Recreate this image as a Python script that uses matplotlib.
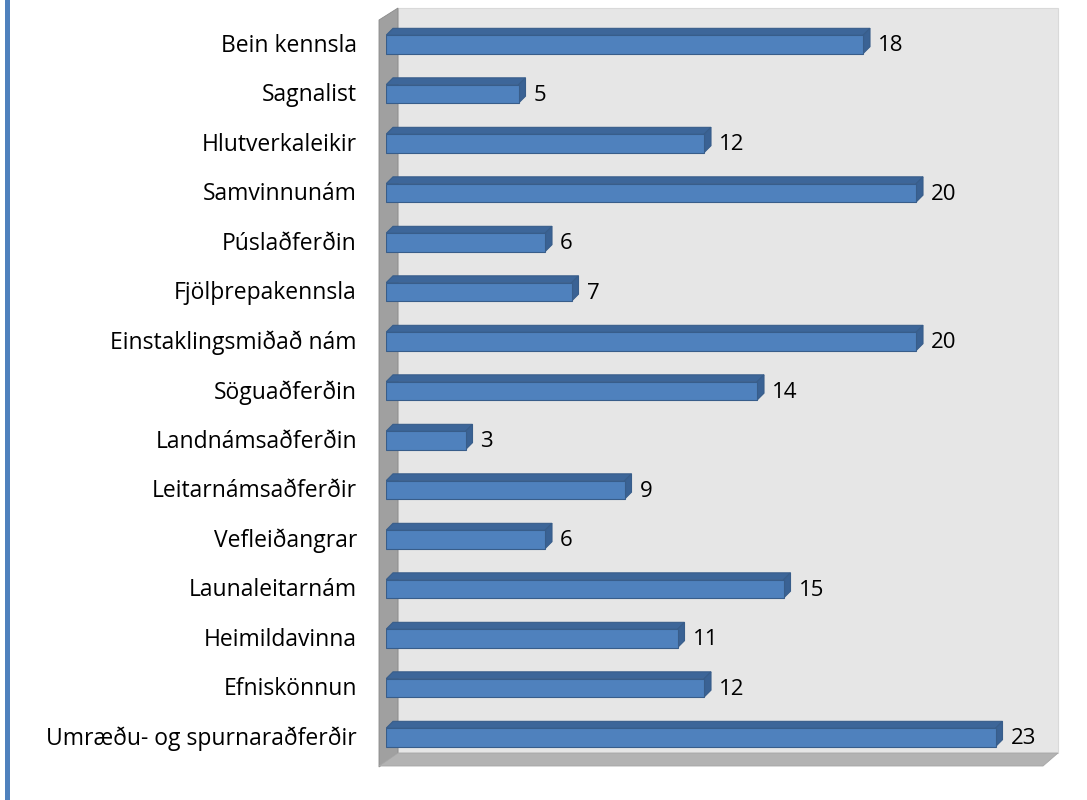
import numpy as np
import matplotlib.pyplot as plt
from matplotlib.patches import Polygon, Rectangle

categories = ["Bein kennsla", "Sagnalist", "Hlutverkaleikir", "Samvinnunám",
              "Púslaðferðin", "Fjölþrepakennsla", "Einstaklingsmiðað nám",
              "Söguaðferðin", "Landnámsaðferðin", "Leitarnámsaðferðir",
              "Vefleiðangrar", "Launaleitarnám", "Heimildavinna",
              "Efniskönnun", "Umræðu- og spurnaraðferðir"]
values = [18, 5, 12, 20, 6, 7, 20, 14, 3, 9, 6, 15, 11, 12, 23]

W, H = 1087, 800
FONT = "Open Sans"

fig = plt.figure(figsize=(W / 100, H / 100), dpi=100)

# background frame in pixel space (walls, floor, left accent line)
bg = fig.add_axes([0, 0, 1, 1])
bg.set_xlim(0, W)
bg.set_ylim(H, 0)
bg.set_axis_off()
bg.add_patch(Rectangle((5, 0), 5, H, color="#4f81bd", lw=0))
bg.add_patch(Polygon([(398, 8), (1058, 8), (1058, 753), (398, 753)],
                     closed=True, fc="#e6e6e6", ec="#d9d9d9", lw=0.8))
bg.add_patch(Polygon([(379, 20), (398, 8), (398, 753), (379, 767)],
                     closed=True, fc="#a0a0a0", ec="#8a8a8a", lw=0.6))
bg.add_patch(Polygon([(398, 753), (1058, 753), (1043, 766), (379, 766)],
                     closed=True, fc="#b3b3b3", ec="#a6a6a6", lw=0.6))

# data axes on the front plane
px_unit = 26.5
x_left, xmax = 386, 25
y_top, step = 44.5 - 0.5 * 49.5, 49.5
ax_w = xmax * px_unit
ax_h = step * len(categories)
ax = fig.add_axes([x_left / W, 1 - (y_top + ax_h) / H, ax_w / W, ax_h / H])
ax.set_xlim(0, xmax)
ax.set_ylim(len(categories) - 0.5, -0.5)
ax.patch.set_alpha(0)
ax.set_axis_off()

y = np.arange(len(categories))
bh = 0.37
dx = 7 / px_unit          # depth offset, data units
dy = 7 / step

face = "#4f81bd"
dark = "#3d6699"
edge = "#385d8a"
for yi, v in zip(y, values):
    top = yi - bh / 2
    bot = yi + bh / 2
    ax.add_patch(Polygon([(0, top), (dx, top - dy), (v + dx, top - dy), (v, top)],
                         closed=True, fc=dark, ec=edge, lw=0.8, zorder=2))
    ax.add_patch(Polygon([(v, top), (v + dx, top - dy), (v + dx, bot - dy), (v, bot)],
                         closed=True, fc="#3a6294", ec=edge, lw=0.8, zorder=2))
ax.barh(y, values, height=bh, color=face, edgecolor=edge, lw=0.8, zorder=3)

for yi, v in zip(y, values):
    ax.text(v + dx + 8 / px_unit, yi + 0.03, str(v), va="center", ha="left",
            fontsize=16, family=FONT, color="black")
    ax.text(-29 / px_unit, yi + 0.03, categories[yi], va="center", ha="right",
            fontsize=16.5, family=FONT, color="black")

fig.savefig("out.png", dpi=100)
